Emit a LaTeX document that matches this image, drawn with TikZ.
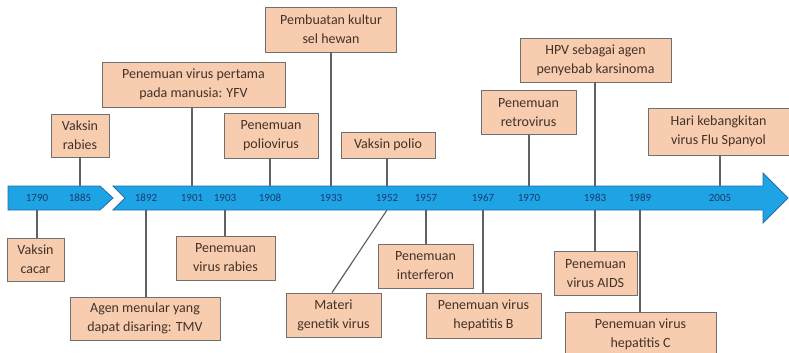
\documentclass[tikz,border=0pt]{standalone}
\usepackage{fontspec}
\setmainfont{Carlito}
\usepackage{xcolor}
\usepackage{tikz}
\definecolor{bandblue}{RGB}{30,164,228}
\definecolor{banddark}{RGB}{40,108,168}
\definecolor{boxpeach}{RGB}{248,204,174}
\definecolor{boxline}{RGB}{112,112,112}
\definecolor{boxtext}{RGB}{66,50,42}
\definecolor{yeartext}{RGB}{28,58,110}
\definecolor{stemgray}{RGB}{96,96,104}

\begin{document}
\begin{tikzpicture}[x=1pt, y=-1pt,
  event/.style={draw=boxline, line width=0.9pt, fill=boxpeach, rectangle, align=center,
    inner sep=1pt, text=boxtext, font=\fontsize{14}{19}\selectfont},
  yearlbl/.style={text=yeartext, inner sep=0pt, font=\fontsize{11}{13}\selectfont},
  stem/.style={draw=stemgray, line width=1.2pt}]
\useasboundingbox (0,0) rectangle (789,353);

% Time band
\draw[banddark, line width=0.8pt, fill=bandblue] (8,186) -- (100,186) -- (113,198) -- (100,210) -- (8,210) -- cycle;
\draw[banddark, line width=0.8pt, fill=bandblue] (113,186) -- (763,186) -- (763,173) -- (788,198)
  -- (763,223) -- (763,210) -- (113,210) -- (125,198) -- cycle;
\coordinate (bandtop) at (0,186);
\coordinate (bandbot) at (0,210);

% Years
\node[yearlbl] (y1790) at (37,198) {1790};
\node[yearlbl] (y1885) at (80,198) {1885};
\node[yearlbl] (y1892) at (146,198) {1892};
\node[yearlbl] (y1901) at (192,198) {1901};
\node[yearlbl] (y1903) at (225,198) {1903};
\node[yearlbl] (y1908) at (270,198) {1908};
\node[yearlbl] (y1933) at (331,198) {1933};
\node[yearlbl] (y1952) at (387,198) {1952};
\node[yearlbl] (y1957) at (426,198) {1957};
\node[yearlbl] (y1967) at (483,198) {1967};
\node[yearlbl] (y1970) at (529,198) {1970};
\node[yearlbl] (y1983) at (595,198) {1983};
\node[yearlbl] (y1989) at (640,198) {1989};
\node[yearlbl] (y2005) at (720,198) {2005};

% Events above the band
\node[event, minimum width=58pt, minimum height=43pt] (vakrabies) at (80,135.5) {Vaksin\\rabies};
\node[event, minimum width=183pt, minimum height=45pt] (yfv) at (193.5,84.5) {Penemuan virus pertama\\pada manusia: YFV};
\node[event, minimum width=131pt, minimum height=45pt] (kultur) at (331,29.5) {Pembuatan kultur\\sel hewan};
\node[event, minimum width=94pt, minimum height=45pt] (poliovirus) at (271,135.5) {Penemuan\\poliovirus};
\node[event, minimum width=94pt, minimum height=26pt] (vakpolio) at (388,145) {Vaksin polio};
\node[event, minimum width=151pt, minimum height=44pt] (hpv) at (595.5,60) {HPV sebagai agen\\penyebab karsinoma};
\node[event, minimum width=95pt, minimum height=44pt] (retro) at (528.5,112.5) {Penemuan\\retrovirus};
\node[event, minimum width=141pt, minimum height=47pt] (flu) at (718.5,131.5) {Hari kebangkitan\\virus Flu Spanyol};

% Events below the band
\node[event, minimum width=57pt, minimum height=43pt] (cacar) at (35.5,259.5) {Vaksin\\cacar};
\node[event, minimum width=150pt, minimum height=43pt] (tmv) at (145,318.5) {Agen menular yang\\dapat disaring: TMV};
\node[event, minimum width=99pt, minimum height=44pt] (rabiesvirus) at (225.5,258) {Penemuan\\virus rabies};
\node[event, minimum width=95pt, minimum height=44pt] (materi) at (333.5,315) {Materi\\genetik virus};
\node[event, minimum width=95pt, minimum height=44pt] (interferon) at (425.5,266) {Penemuan\\interferon};
\node[event, minimum width=115pt, minimum height=45pt] (hepb) at (483.5,315.5) {Penemuan virus\\hepatitis B};
\node[event, minimum width=83pt, minimum height=44pt] (aids) at (595.5,273.5) {Penemuan\\virus AIDS};
\node[event, minimum width=151pt, minimum height=44pt] (hepc) at (640.5,334) {Penemuan virus\\hepatitis C};

% Stems up
\draw[stem] (vakrabies.south -| y1885) -- (y1885 |- bandtop);
\draw[stem] (yfv.south -| y1901) -- (y1901 |- bandtop);
\draw[stem] (kultur.south -| y1933) -- (y1933 |- bandtop);
\draw[stem] (poliovirus.south -| y1908) -- (y1908 |- bandtop);
\draw[stem] (vakpolio.south -| y1952) -- (y1952 |- bandtop);
\draw[stem] (hpv.south -| y1983) -- (y1983 |- bandtop);
\draw[stem] (retro.south -| y1970) -- (y1970 |- bandtop);
\draw[stem] (flu.south -| y2005) -- (y2005 |- bandtop);

% Stems down
\draw[stem] (cacar.north -| y1790) -- (y1790 |- bandbot);
\draw[stem] (tmv.north -| y1892) -- (y1892 |- bandbot);
\draw[stem] (rabiesvirus.north -| y1903) -- (y1903 |- bandbot);
\draw[stem] ([xshift=-1.5pt]materi.north) -- (y1952 |- bandbot);
\draw[stem] (interferon.north -| y1957) -- (y1957 |- bandbot);
\draw[stem] (hepb.north -| y1967) -- (y1967 |- bandbot);
\draw[stem] (aids.north -| y1983) -- (y1983 |- bandbot);
\draw[stem] (hepc.north -| y1989) -- (y1989 |- bandbot);
\end{tikzpicture}
\end{document}
